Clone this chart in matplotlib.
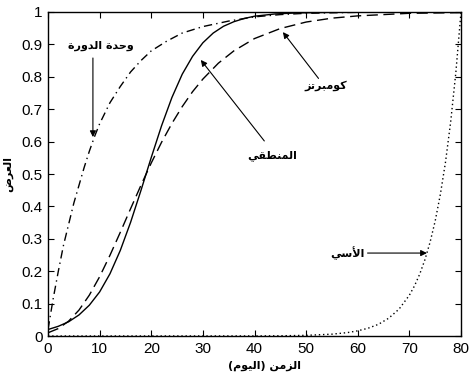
import matplotlib
matplotlib.use("Agg")
import matplotlib.pyplot as plt

# curve values (day -> fraction)
logistic_days = [0, 2, 4, 6, 8, 10, 12, 14, 16, 18, 20, 22, 24, 26, 28, 30, 32, 34, 36, 38, 40, 44, 48, 55, 80]
logistic_vals = [0.020, 0.030, 0.044, 0.065, 0.095, 0.136, 0.192, 0.264, 0.351, 0.449, 0.551, 0.649,
                 0.736, 0.808, 0.863, 0.905, 0.935, 0.956, 0.970, 0.980, 0.987, 0.994, 0.997, 0.999, 1.0]

gompertz_days = [0, 2, 4, 6, 8, 10, 12, 14, 16, 18, 20, 22, 24, 26, 28, 30, 33, 36, 40, 45, 50, 55, 60, 70, 80]
gompertz_vals = [0.010, 0.023, 0.046, 0.080, 0.126, 0.183, 0.249, 0.320, 0.393, 0.465, 0.534, 0.598,
                 0.656, 0.708, 0.754, 0.793, 0.842, 0.880, 0.918, 0.949, 0.969, 0.981, 0.988, 0.996, 0.998]

cycle_days = [0, 1, 2, 3, 4, 5, 6, 7, 8, 9, 10, 12, 14, 16, 18, 20, 23, 26, 30, 35, 40, 45, 50, 60, 80]
cycle_vals = [0.02, 0.115, 0.20, 0.28, 0.345, 0.41, 0.465, 0.52, 0.57, 0.615, 0.655, 0.72, 0.77,
              0.815, 0.85, 0.88, 0.91, 0.935, 0.955, 0.972, 0.985, 0.992, 0.996, 0.999, 1.0]

exp_days = [0, 40, 45, 50, 55, 58, 60, 62, 64, 66, 68, 70, 71, 72, 73, 74, 75, 76, 77, 78, 79, 80]
exp_vals = [0.0, 0.00025, 0.0007, 0.002, 0.0057, 0.0105, 0.016, 0.024, 0.036, 0.055, 0.083, 0.126,
            0.155, 0.191, 0.235, 0.289, 0.355, 0.437, 0.537, 0.661, 0.813, 1.0]

x_ticks = [0, 10, 20, 30, 40, 50, 60, 70, 80]
y_ticks = [0, 0.1, 0.2, 0.3, 0.4, 0.5, 0.6, 0.7, 0.8, 0.9, 1]
y_tick_labels = ["0", "0.1", "0.2", "0.3", "0.4", "0.5", "0.6", "0.7", "0.8", "0.9", "1"]

lbl_cycle = "وحدة الدورة"
lbl_gompertz = "كومبرتز"
lbl_logistic = "المنطقي"
lbl_exp = "الأسي"
x_label = "الزمن (اليوم)"
y_label = "العرض"

# matplotlib has no arabic shaping, so pick presentation forms by hand
# letter: (isolated, final, initial, medial)
FORMS = {
    "ا": ("\ufe8d", "\ufe8e", None, None),
    "أ": ("\ufe83", "\ufe84", None, None),
    "ر": ("\ufead", "\ufeae", None, None),
    "ز": ("\ufeaf", "\ufeb0", None, None),
    "و": ("\ufeed", "\ufeee", None, None),
    "د": ("\ufea9", "\ufeaa", None, None),
    "ة": ("\ufe93", "\ufe94", None, None),
    "ل": ("\ufedd", "\ufede", "\ufedf", "\ufee0"),
    "ع": ("\ufec9", "\ufeca", "\ufecb", "\ufecc"),
    "ض": ("\ufebd", "\ufebe", "\ufebf", "\ufec0"),
    "م": ("\ufee1", "\ufee2", "\ufee3", "\ufee4"),
    "ن": ("\ufee5", "\ufee6", "\ufee7", "\ufee8"),
    "ي": ("\ufef1", "\ufef2", "\ufef3", "\ufef4"),
    "ح": ("\ufea1", "\ufea2", "\ufea3", "\ufea4"),
    "ك": ("\ufed9", "\ufeda", "\ufedb", "\ufedc"),
    "ب": ("\ufe8f", "\ufe90", "\ufe91", "\ufe92"),
    "ت": ("\ufe95", "\ufe96", "\ufe97", "\ufe98"),
    "ط": ("\ufec1", "\ufec2", "\ufec3", "\ufec4"),
    "ق": ("\ufed5", "\ufed6", "\ufed7", "\ufed8"),
    "س": ("\ufeb1", "\ufeb2", "\ufeb3", "\ufeb4"),
}
LAM_ALEF = {"ا": ("\ufefb", "\ufefc"), "أ": ("\ufef7", "\ufef8")}
MIRROR = {"(": ")", ")": "("}


def dual(c):
    return c in FORMS and FORMS[c][2] is not None


def shape(text):
    out = []
    i = 0
    while i < len(text):
        c = text[i]
        prev_j = i > 0 and dual(text[i - 1])
        if c == "ل" and i + 1 < len(text) and text[i + 1] in LAM_ALEF:
            out.append(LAM_ALEF[text[i + 1]][1 if prev_j else 0])
            i += 2
            continue
        if c in FORMS:
            next_j = dual(c) and i + 1 < len(text) and text[i + 1] in FORMS
            iso, fin, ini, med = FORMS[c]
            if prev_j and next_j:
                out.append(med)
            elif prev_j:
                out.append(fin)
            elif next_j:
                out.append(ini)
            else:
                out.append(iso)
        else:
            out.append(MIRROR.get(c, c))
        i += 1
    return "".join(reversed(out))


fig = plt.figure(figsize=(4.72, 3.82), dpi=100)
ax = fig.add_axes([0.1017, 0.1204, 0.875, 0.8482])

lw = 1.0
ax.plot(exp_days, exp_vals, color="black", lw=lw, linestyle=(0, (1, 2)))
ax.plot(logistic_days, logistic_vals, color="black", lw=lw)
ax.plot(gompertz_days, gompertz_vals, color="black", lw=lw, linestyle=(0, (8, 4)))
ax.plot(cycle_days, cycle_vals, color="black", lw=lw, linestyle=(0, (6, 3, 1, 3)))

ax.set_xlim(0, 80)
ax.set_ylim(0, 1)
ax.set_xticks(x_ticks)
ax.set_yticks(y_ticks)
ax.set_yticklabels(y_tick_labels)
ax.tick_params(direction="in", length=4, width=0.8, top=True, right=True,
               labelsize=11, pad=4)
for lab in ax.get_xticklabels() + ax.get_yticklabels():
    lab.set_family("Liberation Sans")
for sp in ax.spines.values():
    sp.set_linewidth(1.0)

afont = dict(family="DejaVu Sans", fontsize=8, fontweight="bold")
arrow = dict(arrowstyle="-|>", color="black", lw=0.8, mutation_scale=9,
             shrinkA=0, shrinkB=0)

ax.annotate("", xy=(8.7, 0.614), xytext=(8.7, 0.858), arrowprops=arrow)
ax.text(10.3, 0.897, shape(lbl_cycle), ha="center", va="center", **afont)

ax.annotate("", xy=(45.5, 0.938), xytext=(52.4, 0.795), arrowprops=arrow)
ax.text(53.8, 0.772, shape(lbl_gompertz), ha="center", va="center", **afont)

ax.annotate("", xy=(29.6, 0.852), xytext=(41.9, 0.602), arrowprops=arrow)
ax.text(43.4, 0.556, shape(lbl_logistic), ha="center", va="center", **afont)

ax.annotate("", xy=(73.4, 0.256), xytext=(61.9, 0.256), arrowprops=arrow)
ax.text(58.0, 0.256, shape(lbl_exp), ha="center", va="center", **afont)

ax.text(0.525, -0.093, shape(x_label), transform=ax.transAxes,
        ha="center", va="center", **afont)
ax.text(-0.097, 0.5, shape(y_label), transform=ax.transAxes, rotation=90,
        ha="center", va="center", **afont)

fig.savefig("out.png", dpi=100)
